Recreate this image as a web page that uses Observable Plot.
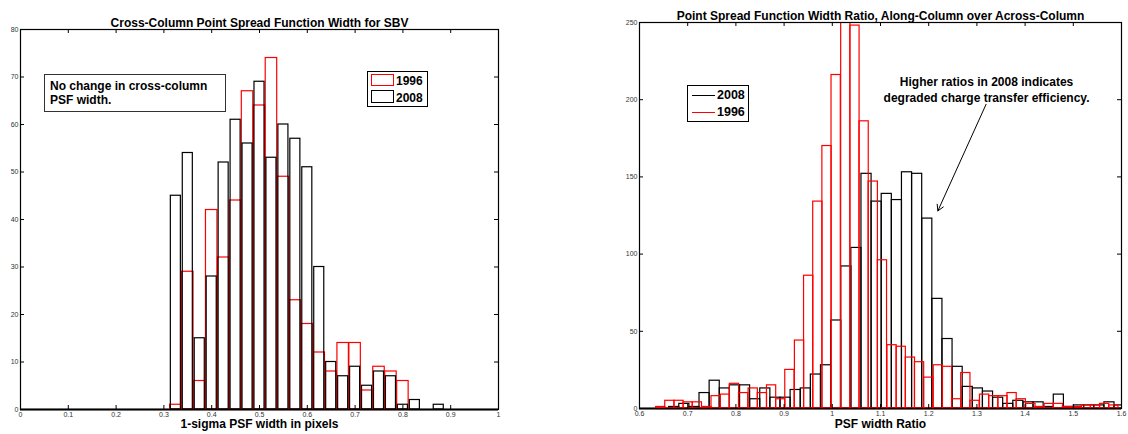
<!DOCTYPE html>
<html><head><meta charset="utf-8">
<script src="https://cdn.jsdelivr.net/npm/d3@7"></script>
<script src="https://cdn.jsdelivr.net/npm/@observablehq/plot@0.6"></script>
<style>
body{margin:0;background:#fff;font-family:"Liberation Sans",Arial,Helvetica,sans-serif;}
#wrap{position:relative;width:1128px;height:434px;overflow:hidden;background:#fff}
.abs{position:absolute;box-sizing:border-box}
.lbl{font-weight:bold;font-size:12px;line-height:14px;color:#000;white-space:nowrap}
</style></head><body>
<div id="wrap">
  <div id="left" class="abs" style="left:0;top:0"></div>
  <div id="right" class="abs" style="left:600px;top:0"></div>

  <div class="abs" style="left:44px;top:74px;width:182px;height:38px;border:1px solid #333;background:#fff;padding:4px 0 0 5px">
    <div class="lbl">No change in cross-column<br>PSF width.</div>
  </div>

  <div class="abs" style="left:367px;top:71px;width:61px;height:36px;border:1.5px solid #000;background:#fff">
    <div class="abs" style="left:2.5px;top:1.5px;width:23px;height:12.5px;border:1.5px solid #f00"></div>
    <div class="abs lbl" style="left:28px;top:1.5px">1996</div>
    <div class="abs" style="left:2.5px;top:18px;width:23px;height:13px;border:1.5px solid #000"></div>
    <div class="abs lbl" style="left:28px;top:18.5px">2008</div>
  </div>

  <div class="abs" style="left:687px;top:85px;width:62px;height:37px;border:1.5px solid #000;background:#fff">
    <div class="abs" style="left:3.5px;top:8.5px;width:23px;height:1.5px;background:#000"></div>
    <div class="abs lbl" style="left:29px;top:2px;font-size:12.5px">2008</div>
    <div class="abs" style="left:3.5px;top:25.5px;width:23px;height:1.5px;background:#f00"></div>
    <div class="abs lbl" style="left:29px;top:19px;font-size:12.5px">1996</div>
  </div>
</div>
<script>
// ---------- Left chart data: cross-column PSF width histogram ----------
const psfBinCenters = [0.325,0.35,0.375,0.4,0.425,0.45,0.475,0.5,0.525,0.55,0.575,0.6,0.625,0.65,0.675,0.7,0.725,0.75,0.775,0.8,0.825,0.85,0.875];
const psf1996 = [1,29,6,42,32,44,67,64,74,49,23,18,12,8,14,14,4,9,8,6,0,0,0];
const psf2008 = [45,54,15,28,52,61,56,69,53,60,57,51,30,10,7,9,5,8,7,1,2,0,1];
const psfXTicks = [0,0.1,0.2,0.3,0.4,0.5,0.6,0.7,0.8,0.9,1];
const psfYTicks = [0,10,20,30,40,50,60,70,80];

// ---------- Right chart data: PSF width ratio histogram ----------
const ratioBins1996 = [0.644,0.663,0.682,0.701,0.720,0.740,0.759,0.778,0.797,0.816,0.836,0.855,0.874,0.893,0.912,0.932,0.951,0.970,0.989,1.008,1.028,1.047,1.066,1.085,1.104,1.124,1.143,1.162,1.181,1.200,1.220,1.239,1.258,1.277,1.296,1.316,1.335,1.354,1.373,1.392,1.412,1.431,1.450,1.469,1.488,1.508,1.527,1.546,1.565,1.584];
const ratio1996 = [1,5,5,4,4,1,8,9,16,10,13,10,15,6,25,44,86,134,170,216,250,248,186,147,96,41,40,33,30,20,28,27,6,23,5,9,8,8,10,6,3,1,3,3,1,1,2,2,3,2];
const ratioBins2008 = [0.651,0.672,0.693,0.714,0.735,0.756,0.777,0.798,0.819,0.840,0.861,0.882,0.903,0.924,0.945,0.966,0.987,1.008,1.029,1.050,1.071,1.092,1.113,1.134,1.155,1.176,1.197,1.218,1.239,1.260,1.281,1.302,1.323,1.344,1.365,1.386,1.407,1.428,1.449,1.470,1.491,1.512,1.533,1.554,1.575,1.596];
const ratio2008 = [0,1,3,1,10,18,13,15,15,6,13,7,7,12,13,22,28,57,92,104,152,134,139,135,153,152,123,71,45,27,14,13,11,7,3,5,4,4,1,9,1,2,2,2,4,2];
const ratioXTicks = [0.6,0.7,0.8,0.9,1,1.1,1.2,1.3,1.4,1.5,1.6];
const ratioYTicks = [0,50,100,150,200,250];
const ratioNote = [{x: 1.32, y: 207, text: "Higher ratios in 2008 indicates\ndegraded charge transfer efficiency."}];
const ratioArrow = [{x1: 1.319, y1: 197, x2: 1.219, y2: 128}];

const FONT = '"Liberation Sans", Arial, Helvetica, sans-serif';
const RED = "#ff0000";

function chart(o) {
  const fw = o.width - o.ml - o.mr, fh = o.height - o.mt - o.mb, tick = 4;
  return Plot.plot({
    width: o.width, height: o.height,
    marginLeft: o.ml, marginRight: o.mr, marginTop: o.mt, marginBottom: o.mb,
    style: {fontFamily: FONT, fontSize: "7px", color: "#333", background: "white", overflow: "visible"},
    x: {domain: o.xDomain, ticks: o.xTicks, tickFormat: d => String(d), tickSize: 0, tickPadding: 3, label: null},
    y: {domain: o.yDomain, ticks: o.yTicks, tickFormat: d => String(d), tickSize: 0, tickPadding: 2, label: null},
    marks: [
      ...o.marks,
      Plot.frame({stroke: "black", strokeWidth: 1.2}),
      Plot.tickX(o.xTicks, {x: d => d, insetTop: fh - tick, stroke: "black"}),
      Plot.tickX(o.xTicks, {x: d => d, insetBottom: fh - tick, stroke: "black"}),
      Plot.tickY(o.yTicks, {y: d => d, insetRight: fw - tick, stroke: "black"}),
      Plot.tickY(o.yTicks, {y: d => d, insetLeft: fw - tick, stroke: "black"}),
      Plot.text([o.title], {text: d => d, frameAnchor: "top", dy: o.titleDy, fontSize: 12, fontWeight: "bold", fill: "black"}),
      Plot.text([o.xLabel], {text: d => d, frameAnchor: "bottom", dy: o.labelDy, fontSize: 12, fontWeight: "bold", fill: "black"})
    ]
  });
}

// Left chart
const wRedL = 0.024, wBlackL = 0.021;
const left1996 = psfBinCenters.map((x, i) => ({x, n: psf1996[i]}));
const left2008 = psfBinCenters.map((x, i) => ({x, n: psf2008[i]}));
document.getElementById("left").append(chart({
  width: 520, height: 434, ml: 20, mr: 22, mt: 29, mb: 25,
  xDomain: [0, 1], yDomain: [0, 80], xTicks: psfXTicks, yTicks: psfYTicks,
  title: "Cross-Column Point Spread Function Width for SBV", titleDy: -11,
  xLabel: "1-sigma PSF width in pixels", labelDy: 18,
  marks: [
    Plot.ruleY([0], {stroke: "black", strokeWidth: 2}),
    Plot.rect(left1996, {x1: d => d.x - wRedL / 2, x2: d => d.x + wRedL / 2, y1: d => 0, y2: "n", fill: "none", stroke: RED, strokeWidth: 1.2}),
    Plot.rect(left2008, {x1: d => d.x - wBlackL / 2, x2: d => d.x + wBlackL / 2, y1: d => 0, y2: "n", fill: "none", stroke: "black", strokeWidth: 1.2})
  ]
}));

// Right chart
const wRedR = 0.0192, wBlackR = 0.021;
const right1996 = ratioBins1996.map((x, i) => ({x, n: ratio1996[i]}));
const right2008 = ratioBins2008.map((x, i) => ({x, n: ratio2008[i]}));
document.getElementById("right").append(chart({
  width: 528, height: 434, ml: 39, mr: 7, mt: 22, mb: 26,
  xDomain: [0.6, 1.6], yDomain: [0, 250], xTicks: ratioXTicks, yTicks: ratioYTicks,
  title: "Point Spread Function Width Ratio, Along-Column over Across-Column", titleDy: -11,
  xLabel: "PSF width Ratio", labelDy: 19,
  marks: [
    Plot.ruleY([0], {stroke: "black", strokeWidth: 2}),
    Plot.rect(right2008, {x1: d => d.x - wBlackR / 2, x2: d => d.x + wBlackR / 2, y1: d => 0, y2: "n", fill: "none", stroke: "black", strokeWidth: 1.2, clip: true}),
    Plot.ruleY([0], {x1: ratioBins1996[0] - wRedR / 2, x2: 1.6, stroke: RED, strokeWidth: 1.5}),
    Plot.rect(right1996, {x1: d => d.x - wRedR / 2, x2: d => d.x + wRedR / 2, y1: d => 0, y2: "n", fill: "none", stroke: RED, strokeWidth: 1.2, clip: true}),
    Plot.text(ratioNote, {x: "x", y: "y", text: "text", fontSize: 12, fontWeight: "bold", fill: "black", lineHeight: 1.33}),
    Plot.arrow(ratioArrow, {x1: "x1", y1: "y1", x2: "x2", y2: "y2", stroke: "black", strokeWidth: 1, headLength: 10})
  ]
}));
</script>
</body></html>
